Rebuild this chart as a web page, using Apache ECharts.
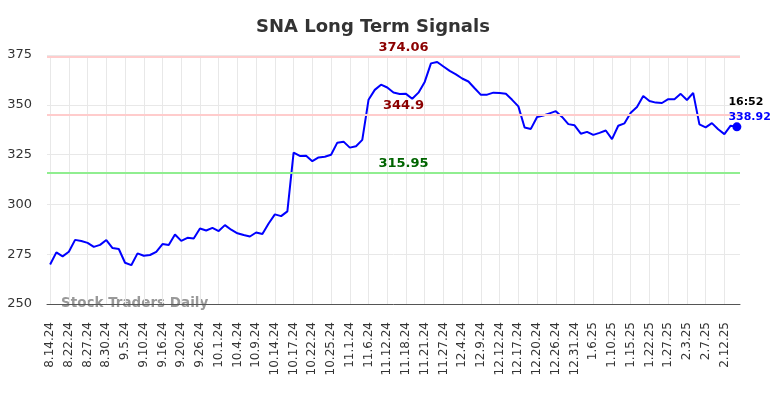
<!DOCTYPE html>
<html>
<head>
<meta charset="utf-8">
<script src="https://cdn.jsdelivr.net/npm/echarts@6/dist/echarts.min.js"></script>
<style>
  html, body { margin: 0; padding: 0; background: #fff; }
  #main { width: 784px; height: 398px; }
</style>
</head>
<body>
<div id="main"></div>
<script>
// tick labels, one every 3 points
const tickLabels = ['8.14.24', '8.22.24', '8.27.24', '8.30.24', '9.5.24', '9.10.24', '9.16.24', '9.20.24', '9.26.24',
  '10.1.24', '10.4.24', '10.9.24', '10.14.24', '10.17.24', '10.22.24', '10.25.24', '11.1.24', '11.6.24', '11.12.24',
  '11.18.24', '11.21.24', '11.27.24', '12.4.24', '12.9.24', '12.12.24', '12.17.24', '12.20.24', '12.26.24', '12.31.24',
  '1.6.25', '1.10.25', '1.15.25', '1.22.25', '1.27.25', '2.3.25', '2.7.25', '2.12.25']

// closing prices
const prices = [269.8, 275.9, 273.9, 276.2, 282.2, 281.6, 280.7, 278.7, 279.7, 282.1,
  278.1, 277.6, 270.7, 269.5, 275.4, 274.2, 274.6, 276.2, 280.1, 279.6,
  284.9, 281.7, 283.2, 282.9, 287.9, 286.9, 288.2, 286.6, 289.6, 287.3,
  285.5, 284.6, 283.9, 285.9, 285.1, 290.4, 295.0, 294.1, 296.5, 326.0,
  324.3, 324.4, 321.7, 323.6, 323.9, 324.9, 331.0, 331.5, 328.5, 329.2,
  332.4, 352.5, 357.5, 360.1, 358.7, 356.2, 355.4, 355.5, 353.0, 356.1,
  361.5, 370.8, 371.5, 369.2, 367.0, 365.3, 363.2, 361.7, 358.3, 355.0,
  355.1, 356.1, 355.9, 355.5, 352.5, 349.2, 338.6, 337.9, 343.9, 344.6,
  345.7, 346.8, 343.9, 340.3, 339.7, 335.5, 336.4, 334.9, 335.9, 337.1,
  332.8, 339.5, 340.7, 346.0, 348.9, 354.4, 351.9, 351.1, 350.9, 352.8,
  352.8, 355.5, 352.4, 356.0, 340.2, 338.7, 340.8, 337.7, 335.3, 339.5,
  338.92]

const resistHigh = 374.06
const resistLow = 344.9
const support = 315.95
const lastTime = '16:52'

// category per point, labels only every 3rd
const categories = prices.map((p, i) => (i % 3 === 0 ? tickLabels[i / 3] : ''))
const lastIdx = prices.length - 1

const chart = echarts.init(document.getElementById('main'))

const option = {
  animation: false,
  textStyle: { fontFamily: 'DejaVu Sans' },
  title: {
    text: 'SNA Long Term Signals',
    left: 251,
    top: 13,
    textStyle: { fontSize: 18, fontWeight: 'bold', color: '#333' }
  },
  grid: { left: 47, right: 44, top: 55, bottom: 94 },
  graphic: [{
    type: 'text',
    left: 61,
    top: 296,
    style: { text: 'Stock Traders Daily', fill: '#999', font: 'bold 13.5px DejaVu Sans' }
  }],
  xAxis: {
    type: 'category',
    data: categories,
    boundaryGap: true,
    axisTick: { show: false },
    axisLine: { lineStyle: { color: '#555', width: 1 } },
    axisLabel: { interval: 2, rotate: 90, fontSize: 12, color: '#333', margin: 18 },
    splitLine: { show: true, interval: 2, alignWithLabel: true, lineStyle: { color: '#e8e8e8' } }
  },
  yAxis: {
    type: 'value',
    min: 250,
    max: 375,
    interval: 25,
    axisLine: { show: false },
    axisTick: { show: false },
    axisLabel: { fontSize: 13, color: '#333', margin: 15 },
    splitLine: { lineStyle: { color: '#e8e8e8' } }
  },
  series: [{
    type: 'line',
    data: prices,
    showSymbol: false,
    lineStyle: { color: '#0000ff', width: 2 },
    itemStyle: { color: '#0000ff' },
    markLine: {
      silent: true,
      symbol: 'none',
      data: [
        { yAxis: resistHigh, lineStyle: { color: '#ffcccc', width: 2, type: 'solid' },
          label: { formatter: String(resistHigh), color: '#8b0000' } },
        { yAxis: resistLow, lineStyle: { color: '#ffcccc', width: 2, type: 'solid' },
          label: { formatter: String(resistLow), color: '#8b0000' } },
        { yAxis: support, lineStyle: { color: '#90ee90', width: 2, type: 'solid' },
          label: { formatter: String(support), color: '#006400' } }
      ],
      label: { position: 'insideMiddleTop', fontSize: 13, fontWeight: 'bold', distance: 3, offset: [10, 0] }
    },
    markPoint: {
      silent: true,
      symbol: 'circle',
      symbolSize: 9,
      itemStyle: { color: '#0000ff' },
      data: [{ coord: [lastIdx, prices[lastIdx]] }],
      label: {
        show: true,
        position: [-4, -28],
        align: 'left',
        formatter: lastTime + '\n{v|' + prices[lastIdx] + '}',
        color: '#000',
        fontSize: 11,
        fontWeight: 'bold',
        lineHeight: 15,
        rich: { v: { color: '#0000ff', fontSize: 11, fontWeight: 'bold', lineHeight: 15 } }
      }
    }
  }]
}

chart.setOption(option)
</script>
</body>
</html>
